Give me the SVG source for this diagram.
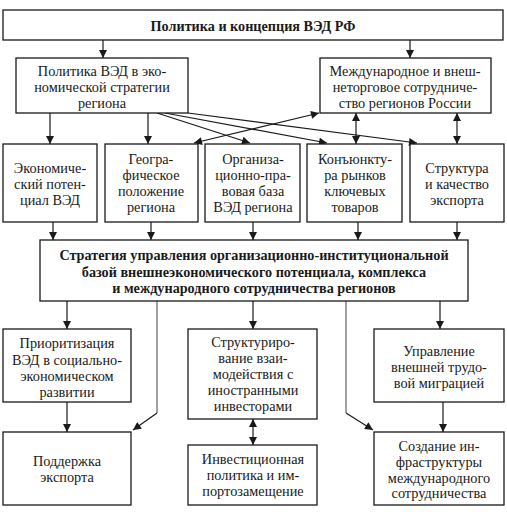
<svg xmlns="http://www.w3.org/2000/svg" width="507" height="512" viewBox="0 0 507 512">
<style>
.box{fill:#fff;stroke:#1a1a1a;stroke-width:1.3}
text{font-family:"Liberation Serif","Times New Roman",serif;font-size:14.3px;fill:#1a1a1a;text-anchor:middle}
.b{font-weight:bold;font-size:14.2px}
.c{fill:none;stroke:#1a1a1a;stroke-width:1.2}
.g{fill:none;stroke:#8a8a8a;stroke-width:1.6}
</style>
<defs>
<marker id="ah" viewBox="0 0 10 10" refX="10" refY="5" markerWidth="10" markerHeight="8" markerUnits="userSpaceOnUse" orient="auto-start-reverse">
<path d="M0,0 L10,5 L0,10 z" fill="#1a1a1a"/>
</marker>
</defs>
<rect width="507" height="512" fill="#fff"/>
<g id="connectors">
<line class="c" x1="103" y1="40" x2="103" y2="58" marker-end="url(#ah)"/>
<line class="c" x1="410" y1="40" x2="410" y2="58" marker-end="url(#ah)"/>
<line class="c" x1="50" y1="113" x2="50" y2="144" marker-end="url(#ah)"/>
<line class="c" x1="148" y1="113" x2="148" y2="144" marker-end="url(#ah)"/>
<line class="c" x1="157" y1="113" x2="250" y2="143" marker-end="url(#ah)"/>
<line class="c" x1="165" y1="113" x2="327" y2="143" marker-end="url(#ah)"/>
<line class="c" x1="188" y1="113" x2="417" y2="143" marker-end="url(#ah)"/>
<line class="c" x1="194" y1="143" x2="319" y2="113" marker-start="url(#ah)" marker-end="url(#ah)"/>
<line class="c" x1="356" y1="113" x2="356" y2="144" marker-start="url(#ah)" marker-end="url(#ah)"/>
<line class="c" x1="457" y1="113" x2="457" y2="144" marker-start="url(#ah)" marker-end="url(#ah)"/>
<line class="c" x1="53" y1="222" x2="53" y2="240" marker-end="url(#ah)"/>
<line class="c" x1="151" y1="222" x2="151" y2="240" marker-end="url(#ah)"/>
<line class="c" x1="253" y1="222" x2="253" y2="240" marker-end="url(#ah)"/>
<line class="c" x1="358" y1="222" x2="358" y2="240" marker-end="url(#ah)"/>
<line class="c" x1="457" y1="222" x2="457" y2="240" marker-end="url(#ah)"/>
<line class="c" x1="67" y1="301" x2="67" y2="329" marker-end="url(#ah)"/>
<line class="c" x1="253" y1="301" x2="253" y2="329" marker-end="url(#ah)"/>
<line class="c" x1="440" y1="301" x2="440" y2="329" marker-end="url(#ah)"/>
<line class="g" x1="157" y1="301" x2="157" y2="413"/>
<line class="c" x1="157" y1="413" x2="133" y2="430" marker-end="url(#ah)"/>
<line class="g" x1="346" y1="301" x2="346" y2="413"/>
<line class="c" x1="346" y1="413" x2="373" y2="430" marker-end="url(#ah)"/>
<line class="c" x1="67" y1="402" x2="67" y2="432" marker-end="url(#ah)"/>
<line class="c" x1="253" y1="419" x2="253" y2="445" marker-start="url(#ah)" marker-end="url(#ah)"/>
<line class="c" x1="443" y1="402" x2="443" y2="432" marker-end="url(#ah)"/>
</g>
<g id="top"><rect class="box" x="3" y="10" width="500" height="30"/><text class="b" x="253" y="31">Политика и концепция ВЭД РФ</text></g>
<g id="policy"><rect class="box" x="16" y="58" width="172" height="55"/>
<text x="102" y="76">Политика ВЭД в эко-</text><text x="102" y="92">номической стратегии</text><text x="102" y="108">региона</text></g>
<g id="intl"><rect class="box" x="320" y="58" width="171" height="55"/>
<text x="405" y="76">Международное и внеш-</text><text x="405" y="92">неторговое сотрудниче-</text><text x="405" y="108">ство регионов России</text></g>
<g id="econ"><rect class="box" x="3" y="144" width="94" height="78"/>
<text x="50" y="173">Экономиче-</text><text x="50" y="189">ский потен-</text><text x="50" y="205">циал ВЭД</text></g>
<g id="geo"><rect class="box" x="105" y="144" width="93" height="78"/>
<text x="151" y="164">Геогра-</text><text x="151" y="180">фическое</text><text x="151" y="196">положение</text><text x="151" y="212">региона</text></g>
<g id="org"><rect class="box" x="205" y="144" width="95" height="78"/>
<text x="253" y="164">Организа-</text><text x="253" y="180">ционно-пра-</text><text x="253" y="196">вовая база</text><text x="253" y="212">ВЭД региона</text></g>
<g id="market"><rect class="box" x="307" y="144" width="95" height="78"/>
<text x="355" y="164">Конъюнкту-</text><text x="355" y="180">ра рынков</text><text x="355" y="196">ключевых</text><text x="355" y="212">товаров</text></g>
<g id="struct"><rect class="box" x="410" y="144" width="94" height="78"/>
<text x="457" y="173">Структура</text><text x="457" y="189">и качество</text><text x="457" y="205">экспорта</text></g>
<g id="strategy"><rect class="box" x="40" y="240" width="428" height="61"/>
<text class="b" x="254" y="260">Стратегия управления организационно-институциональной</text>
<text class="b" x="254" y="277">базой внешнеэкономического потенциала, комплекса</text>
<text class="b" x="254" y="293">и международного сотрудничества регионов</text></g>
<g id="prior"><rect class="box" x="3" y="329" width="128" height="73"/>
<text x="67" y="348">Приоритизация</text><text x="67" y="365">ВЭД в социально-</text><text x="67" y="381">экономическом</text><text x="67" y="397">развитии</text></g>
<g id="support"><rect class="box" x="3" y="432" width="128" height="73"/>
<text x="67" y="466">Поддержка</text><text x="67" y="482">экспорта</text></g>
<g id="investors"><rect class="box" x="188" y="329" width="129" height="90"/>
<text x="253" y="347">Структуриро-</text><text x="253" y="363">вание взаи-</text><text x="253" y="379">модействия с</text><text x="253" y="395">иностранными</text><text x="253" y="411">инвесторами</text></g>
<g id="invpol"><rect class="box" x="188" y="445" width="129" height="60"/>
<text x="253" y="464">Инвестиционная</text><text x="253" y="480">политика и им-</text><text x="253" y="496">портозамещение</text></g>
<g id="migr"><rect class="box" x="374" y="329" width="130" height="73"/>
<text x="439" y="356">Управление</text><text x="439" y="372">внешней трудо-</text><text x="439" y="388">вой миграцией</text></g>
<g id="infra"><rect class="box" x="374" y="432" width="130" height="73"/>
<text x="439" y="451">Создание ин-</text><text x="439" y="467">фраструктуры</text><text x="439" y="483">международного</text><text x="439" y="498">сотрудничества</text></g>
</svg>
